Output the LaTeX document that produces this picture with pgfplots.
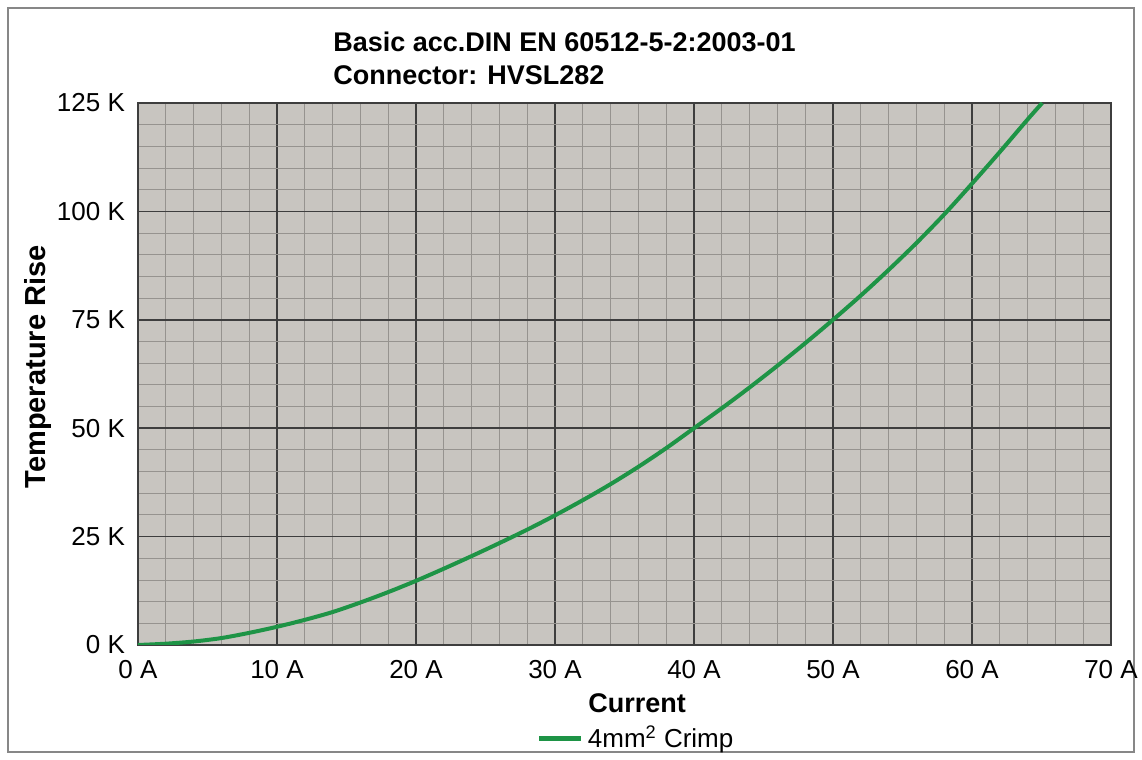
\documentclass[border=0pt]{standalone}
\usepackage{fontspec}
\setmainfont{Liberation Sans}
\usepackage{pgfplots}
\pgfplotsset{compat=1.18}
\definecolor{bgc}{RGB}{200,197,192}
\definecolor{minorc}{RGB}{150,147,143}
\definecolor{majorc}{RGB}{62,62,62}
\definecolor{curvec}{RGB}{30,148,70}
\definecolor{framec}{RGB}{135,135,135}
\begin{document}
\begin{tikzpicture}[x=0.5pt,y=0.5pt]
\useasboundingbox (0,0) rectangle (1142,760);
\draw[framec, line width=1pt] (8,8) rectangle (1134,752);
\node[anchor=north west, align=left, font=\bfseries\fontsize{13.5}{16.5}\selectfont, inner sep=0pt] at (333,760-32)
  {Basic acc.DIN EN 60512-5-2:2003-01\\Connector: HVSL282};
\begin{axis}[
  at={(69pt,57.5pt)}, anchor=origin,
  scale only axis, width=486.5pt, height=271pt,
  xmin=0, xmax=70, ymin=0, ymax=125,
  xtick={0,10,...,70}, ytick={0,25,...,125},
  minor x tick num=4, minor y tick num=4,
  grid=both,
  major grid style={majorc, line width=0.75pt},
  minor grid style={minorc, line width=0.45pt},
  major tick length=0pt, minor tick length=0pt,
  axis line style={majorc, line width=0.8pt},
  axis background/.style={fill=bgc},
  tick label style={font=\fontsize{13}{15}\selectfont},
  xticklabel style={yshift=-4pt},
  yticklabel style={xshift=-3pt},
  /pgf/number format/assume math mode=true,
  xticklabel={\pgfmathprintnumber{\tick}~A},
  yticklabel={\pgfmathprintnumber{\tick}~K},
  xlabel={\textbf{Current}},
  ylabel={\textbf{Temperature Rise}},
  xlabel style={font=\fontsize{13.5}{15}\selectfont, at={(axis description cs:0.513,-0.107)}, anchor=center},
  ylabel style={font=\fontsize{14.5}{16}\selectfont, at={(axis description cs:-0.103,0.513)}, anchor=center},
  legend style={draw=none, fill=none, at={(axis description cs:0.513,-0.172)}, anchor=center,
    font=\fontsize{13}{15}\selectfont},
  legend image post style={line width=2.5pt},
  legend image code/.code={\draw[#1] (0pt,0pt) -- (21pt,0pt);},
]
\addplot[curvec, line width=2pt, smooth] coordinates {
(0,0) (2,0.3) (4,0.8) (6,1.6) (8,2.8) (10,4.2) (12,5.8) (14,7.6) (16,9.8) (18,12.2)
(20,14.8) (22,17.6) (24,20.5) (26,23.5) (28,26.6) (30,29.9) (32,33.4) (34,37.1)
(36,41.1) (38,45.4) (40,50.0) (42,54.6) (44,59.4) (46,64.4) (48,69.6) (50,75.0)
(52,80.6) (54,86.5) (56,92.7) (58,99.3) (60,106.4) (62,113.7) (64,121.2) (65.05,125)
};
\addlegendentry{4mm\textsuperscript{2} Crimp}
\end{axis}
\end{tikzpicture}
\end{document}
